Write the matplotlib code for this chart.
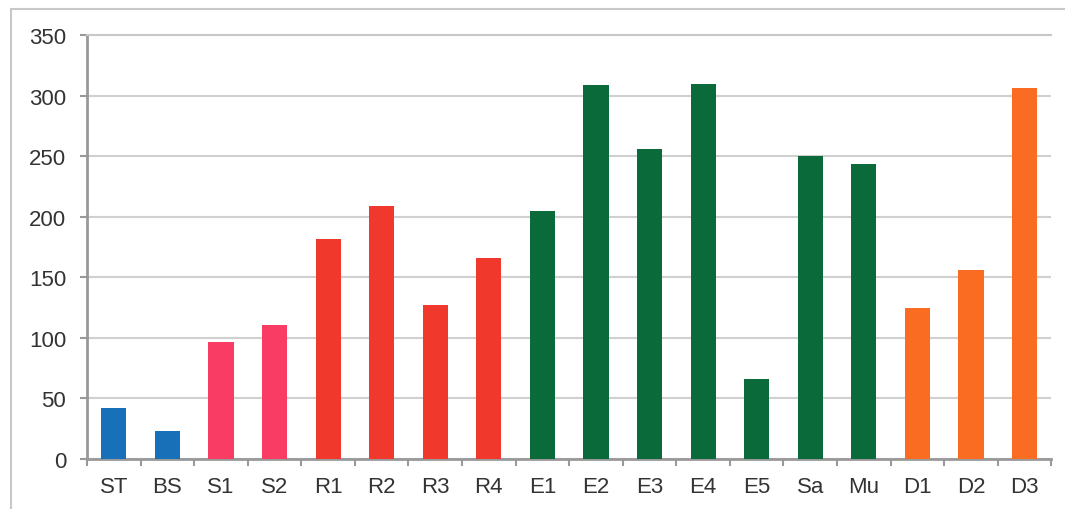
import numpy as np
import matplotlib.pyplot as plt
from matplotlib.patches import Rectangle

# data
categories = ["ST", "BS", "S1", "S2", "R1", "R2", "R3", "R4", "E1", "E2",
              "E3", "E4", "E5", "Sa", "Mu", "D1", "D2", "D3"]
values = [42, 23, 97, 111, 182, 209, 127, 166, 205, 309,
          256, 310, 66, 250, 244, 125, 156, 306]
groups = ["blue", "blue", "pink", "pink", "red", "red", "red", "red",
          "green", "green", "green", "green", "green", "green", "green",
          "orange", "orange", "orange"]

palette = {"blue": "#1870b8", "pink": "#f83c64", "red": "#f0382c",
           "green": "#0a6a3a", "orange": "#f96c22"}

plt.rcParams['font.family'] = ['Liberation Sans', 'DejaVu Sans']

fig = plt.figure(figsize=(10.65, 5.1), dpi=100)
ax = fig.add_axes([0.0817, 0.098, 0.9055, 0.831])

x = np.arange(len(categories))
ax.bar(x, values, width=0.47, color=[palette[g] for g in groups], zorder=3)

ax.set_xlim(-0.5, len(categories) - 0.5)
ax.set_ylim(0, 350)
ax.set_yticks(range(0, 351, 50))
ax.set_xticks(x)
ax.set_xticklabels(categories)
ax.set_xticks(np.arange(-0.5, len(categories), 1), minor=True)
ax.tick_params(axis='x', which='major', length=0, pad=12, labelsize=16, labelcolor='#333333')
ax.tick_params(axis='x', which='minor', length=5, color='#999999', width=1.5)
ax.tick_params(axis='y', length=5, color='#999999', width=1.5, labelsize=16,
               labelcolor='#333333', pad=10)

ax.grid(axis='y', color='#d0d0d0', linewidth=1.5, zorder=0)
ax.spines['right'].set_visible(False)
ax.spines['top'].set_color('#c8c8c8')
ax.spines['top'].set_linewidth(1.5)
ax.spines['left'].set_color('#999999')
ax.spines['left'].set_linewidth(2)
ax.spines['bottom'].set_color('#999999')
ax.spines['bottom'].set_linewidth(2)

# outer frame of the chart
fig.patches.append(Rectangle((0.01, -0.02), 1.2, 1.0, transform=fig.transFigure,
                             fill=False, edgecolor='#c8c8c8', linewidth=1.5))

fig.savefig("out.png", dpi=100)
